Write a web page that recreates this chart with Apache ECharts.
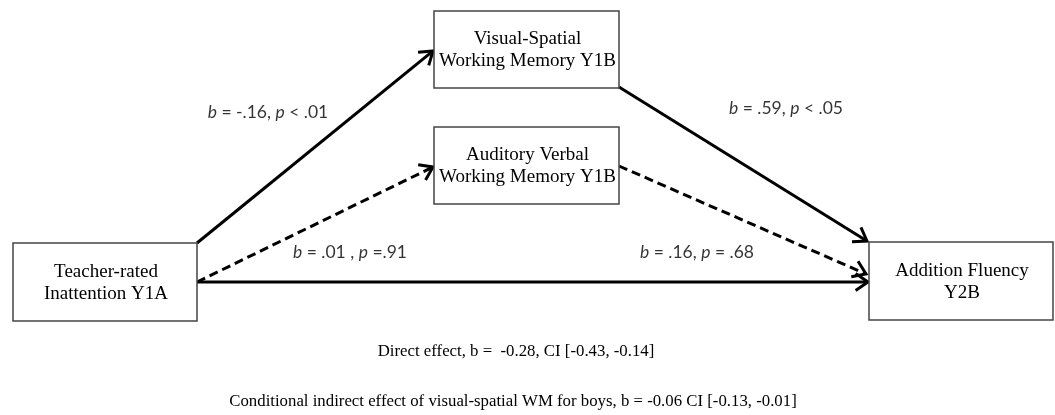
<!DOCTYPE html>
<html>
<head>
<meta charset="utf-8">
<script src="https://cdn.jsdelivr.net/npm/echarts@6/dist/echarts.min.js"></script>
<style>
  html, body { margin: 0; padding: 0; background: #fff; }
  #main { width: 1055px; height: 415px; }
</style>
</head>
<body>
<div id="main"></div>
<script>
var dom = document.getElementById('main');
var myChart = echarts.init(dom, null, { renderer: 'canvas' });

// boxes (variables in the model)
var boxNames = [
    'Teacher-rated\nInattention Y1A',
    'Visual-Spatial\nWorking Memory Y1B',
    'Auditory Verbal\nWorking Memory Y1B',
    'Addition Fluency\nY2B'
];
// path estimates and their significance (dashed = n.s.)
var pathCoefs = ['-.16', '.01 ', '.59', '.16'];
var pathP = ['< .01', '=.91', '< .05', '= .68'];
var pathSig = [true, false, true, false];
var directLabel = 'Direct effect, b =  -0.28, CI [-0.43, -0.14]';
var indirectLabel = 'Conditional indirect effect of visual-spatial WM for boys, b = -0.06 CI [-0.13, -0.01]';

// layout (pixel space of the diagram)
var boxRects = [
    [13, 243, 197, 321],
    [434, 11, 619, 88],
    [434, 127, 619, 204],
    [869, 242, 1053, 320]
];
var pathEnds = [
    [197, 243, 433, 51],
    [197, 282, 433, 167],
    [619, 87, 867, 241],
    [619, 166, 866, 274]
];
var pathLabelPos = [[268, 112], [350, 252], [786, 108], [697, 252]];
var directPath = [197, 282, 868, 282];

var serif = '"Liberation Serif", "DejaVu Serif", serif';
var sans = 'Lato, "Liberation Sans", sans-serif';

var boxData = boxRects.map(function (r, i) { return r.concat([i]); });
var arrowData = pathEnds.map(function (p, i) { return p.concat([pathSig[i] ? 1 : 0]); });
arrowData.push(directPath.concat([1]));
var labelData = pathLabelPos.map(function (p, i) {
    return { value: p, text: '{i|b} = ' + pathCoefs[i] + ', {i|p} ' + pathP[i] };
});

function renderBox(params, api) {
    var a = api.coord([api.value(0), api.value(1)]);
    var b = api.coord([api.value(2), api.value(3)]);
    var name = boxNames[api.value(4)];
    return {
        type: 'group',
        children: [
            {
                type: 'rect',
                shape: { x: a[0], y: a[1], width: b[0] - a[0], height: b[1] - a[1] },
                style: { fill: '#fff', stroke: '#444', lineWidth: 1.5 }
            },
            {
                type: 'text',
                x: (a[0] + b[0]) / 2 + 1,
                y: (a[1] + b[1]) / 2 + 1,
                style: {
                    text: name,
                    font: '19px ' + serif,
                    fill: '#000',
                    align: 'center',
                    verticalAlign: 'middle',
                    lineHeight: 22
                }
            }
        ]
    };
}

function renderArrow(params, api) {
    var s = api.coord([api.value(0), api.value(1)]);
    var e = api.coord([api.value(2), api.value(3)]);
    var solid = api.value(4) === 1;
    var ang = Math.atan2(e[1] - s[1], e[0] - s[0]);
    var len = 15, spread = 0.6;
    var p1 = [e[0] - len * Math.cos(ang - spread), e[1] - len * Math.sin(ang - spread)];
    var p2 = [e[0] - len * Math.cos(ang + spread), e[1] - len * Math.sin(ang + spread)];
    return {
        type: 'group',
        children: [
            {
                type: 'line',
                shape: { x1: s[0], y1: s[1], x2: e[0] - 1.5 * Math.cos(ang), y2: e[1] - 1.5 * Math.sin(ang) },
                style: { stroke: '#000', lineWidth: 3, lineDash: solid ? null : [9, 5] }
            },
            {
                type: 'polyline',
                shape: { points: [p1, e, p2] },
                style: { stroke: '#000', lineWidth: 3, fill: null, lineJoin: 'miter' }
            }
        ]
    };
}

var option = {
    animation: false,
    grid: { left: 0, right: 0, top: 0, bottom: 0 },
    xAxis: { type: 'value', min: 0, max: 1055, show: false },
    yAxis: { type: 'value', min: 0, max: 415, inverse: true, show: false },
    series: [
        {
            type: 'custom',
            renderItem: renderArrow,
            data: arrowData,
            z: 2
        },
        {
            type: 'custom',
            renderItem: renderBox,
            data: boxData,
            z: 3
        },
        {
            type: 'scatter',
            symbolSize: 0,
            data: labelData,
            label: {
                show: true,
                position: 'inside',
                formatter: function (p) { return p.data.text; },
                fontFamily: sans,
                fontSize: 17.5,
                color: '#000',
                textBorderWidth: 0,
                rich: {
                    i: { fontFamily: sans, fontSize: 17.5, fontStyle: 'italic', color: '#000', textBorderWidth: 0 }
                }
            },
            z: 4
        }
    ],
    graphic: [
        {
            type: 'text', x: 516, y: 352,
            style: { text: directLabel, font: '16.8px ' + serif, fill: '#000', align: 'center', verticalAlign: 'middle' }
        },
        {
            type: 'text', x: 513, y: 402,
            style: { text: indirectLabel, font: '16.8px ' + serif, fill: '#000', align: 'center', verticalAlign: 'middle' }
        }
    ]
};

myChart.setOption(option);
window.addEventListener('resize', myChart.resize);
</script>
</body>
</html>
